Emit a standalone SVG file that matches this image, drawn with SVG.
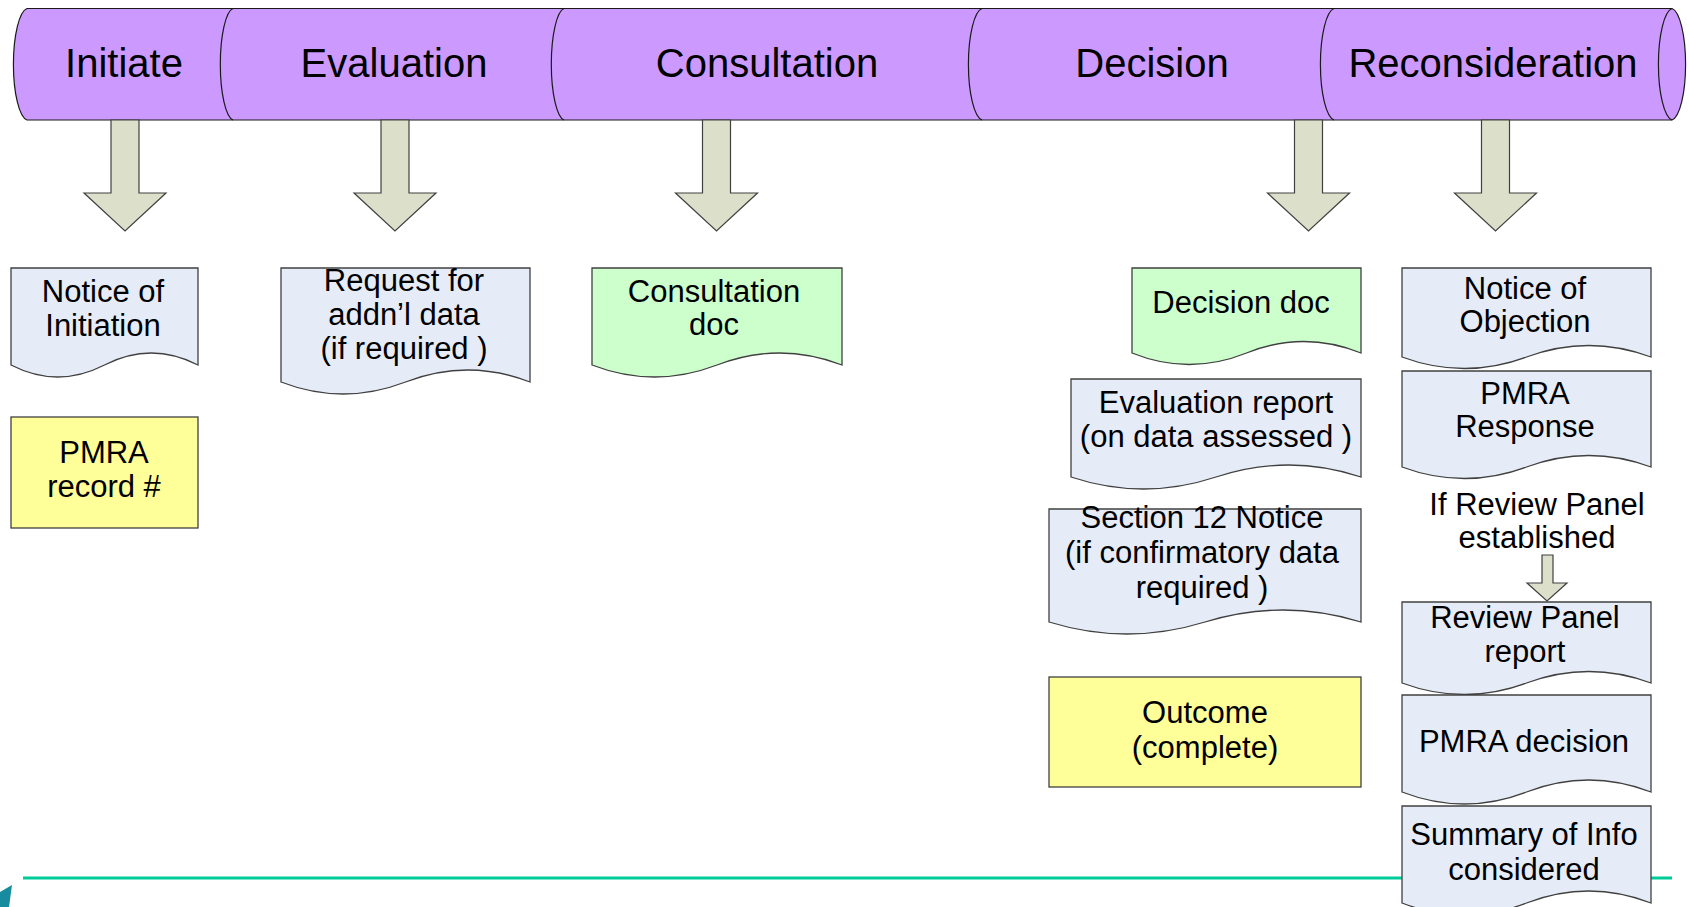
<svg xmlns="http://www.w3.org/2000/svg" width="1690" height="907" viewBox="0 0 1690 907">
<style>
text{font-family:"Liberation Sans",Arial,sans-serif;fill:#000;text-anchor:middle}
.title{font-size:40px}
.t{font-size:31px}
.band{fill:#CC99FF;stroke:#1a1a1a;stroke-width:1.2}
.sep{fill:none;stroke:#1a1a1a;stroke-width:1.2}
.arr{fill:#DCE0CB;stroke:#404040;stroke-width:1.2}
.blue{fill:#E6ECF7;stroke:#404040;stroke-width:1.3}
.green{fill:#CCFFCC;stroke:#404040;stroke-width:1.3}
.yellow{fill:#FFFF99;stroke:#404040;stroke-width:1.3}
</style>
<rect width="1690" height="907" fill="#fff"/>
<g id="timeline">
<path class="band" d="M27,8.5 H1672 A15 56 0 0 1 1672,120 H27 A15 56 0 0 1 27,8.5 Z"/>
<path class="sep" d="M1672,8.5 A15 56 0 0 0 1672,120"/>
<path class="sep" d="M233,8.5 A14 56 0 0 0 233,120"/>
<path class="sep" d="M564,8.5 A14 56 0 0 0 564,120"/>
<path class="sep" d="M982,8.5 A15 56 0 0 0 982,120"/>
<path class="sep" d="M1334,8.5 A15 56 0 0 0 1334,120"/>
</g>
<g id="stage-initiate"><text class="title" x="124" y="77">Initiate</text></g>
<g id="stage-evaluation"><text class="title" x="394" y="77">Evaluation</text></g>
<g id="stage-consultation"><text class="title" x="767" y="77">Consultation</text></g>
<g id="stage-decision"><text class="title" x="1152" y="77">Decision</text></g>
<g id="stage-reconsideration"><text class="title" x="1493" y="77">Reconsideration</text></g>
<g id="connectors">
<path class="arr" d="M111,120 V193 H84 L125,231 L166,193 H139 V120 Z"/>
<path class="arr" d="M381,120 V193 H354 L395,231 L436,193 H409 V120 Z"/>
<path class="arr" d="M702.5,120 V193 H675.5 L716.5,231 L757.5,193 H730.5 V120 Z"/>
<path class="arr" d="M1294.5,120 V193 H1267.5 L1308.5,231 L1349.5,193 H1322.5 V120 Z"/>
<path class="arr" d="M1481.5,120 V193 H1454.5 L1495.5,231 L1536.5,193 H1509.5 V120 Z"/>
<path class="arr" d="M1542,555 V583 H1527 L1547,601 L1567,583 H1553 V555 Z"/>
</g>
<g id="bottom-line">
<line x1="23" y1="878" x2="1672" y2="878" stroke="#00CC99" stroke-width="3"/>
<polygon points="0,892 12,885 9,907 0,907" fill="#168C9E"/>
</g>
<g id="notice-initiation">
<path class="blue" d="M11,268 H198 V365 Q151.25,341 104.5,365 T11,365 Z"/>
<text class="t" x="103" y="302">Notice of</text>
<text class="t" x="103" y="336">Initiation</text>
</g>
<g id="pmra-record">
<rect class="yellow" x="11" y="417" width="187" height="111"/>
<text class="t" x="104" y="463">PMRA</text>
<text class="t" x="104" y="497">record #</text>
</g>
<g id="request-data">
<path class="blue" d="M281,268 H530 V382 Q467.75,358 405.5,382 T281,382 Z"/>
<text class="t" x="404" y="291">Request for</text>
<text class="t" x="404" y="325">addn’l data</text>
<text class="t" x="404" y="359">(if required )</text>
</g>
<g id="consultation-doc">
<path class="green" d="M592,268 H842 V365 Q779.5,341 717,365 T592,365 Z"/>
<text class="t" x="714" y="302">Consultation</text>
<text class="t" x="714" y="335">doc</text>
</g>
<g id="decision-doc">
<path class="green" d="M1132,268 H1361 V353 Q1303.75,330 1246.5,353 T1132,353 Z"/>
<text class="t" x="1241" y="313">Decision doc</text>
</g>
<g id="evaluation-report">
<path class="blue" d="M1071,379 H1361 V477 Q1288.5,453 1216,477 T1071,477 Z"/>
<text class="t" x="1216" y="413">Evaluation report</text>
<text class="t" x="1216" y="447">(on data assessed )</text>
</g>
<g id="section-12">
<path class="blue" d="M1049,509 H1361 V622 Q1283,598 1205,622 T1049,622 Z"/>
<text class="t" x="1202" y="528">Section 12 Notice</text>
<text class="t" x="1202" y="563">(if confirmatory data</text>
<text class="t" x="1202" y="598">required )</text>
</g>
<g id="outcome">
<rect class="yellow" x="1049" y="677" width="312" height="110"/>
<text class="t" x="1205" y="723">Outcome</text>
<text class="t" x="1205" y="758">(complete)</text>
</g>
<g id="notice-objection">
<path class="blue" d="M1402,268 H1651 V357 Q1588.75,334 1526.5,357 T1402,357 Z"/>
<text class="t" x="1525" y="299">Notice of</text>
<text class="t" x="1525" y="332">Objection</text>
</g>
<g id="pmra-response">
<path class="blue" d="M1402,371 H1651 V467 Q1588.75,444 1526.5,467 T1402,467 Z"/>
<text class="t" x="1525" y="404">PMRA</text>
<text class="t" x="1525" y="437">Response</text>
</g>
<g id="review-panel-condition">
<text class="t" x="1537" y="515">If Review Panel</text>
<text class="t" x="1537" y="548">established</text>
</g>
<g id="review-panel-report">
<path class="blue" d="M1402,602 H1651 V683 Q1588.75,660 1526.5,683 T1402,683 Z"/>
<text class="t" x="1525" y="628">Review Panel</text>
<text class="t" x="1525" y="662">report</text>
</g>
<g id="pmra-decision">
<path class="blue" d="M1402,695 H1651 V792 Q1588.75,768 1526.5,792 T1402,792 Z"/>
<text class="t" x="1524" y="752">PMRA decision</text>
</g>
<g id="summary-info">
<path class="blue" d="M1402,806 H1651 V903 Q1588.75,879 1526.5,903 T1402,903 Z"/>
<text class="t" x="1524" y="845">Summary of Info</text>
<text class="t" x="1524" y="880">considered</text>
</g>
</svg>
